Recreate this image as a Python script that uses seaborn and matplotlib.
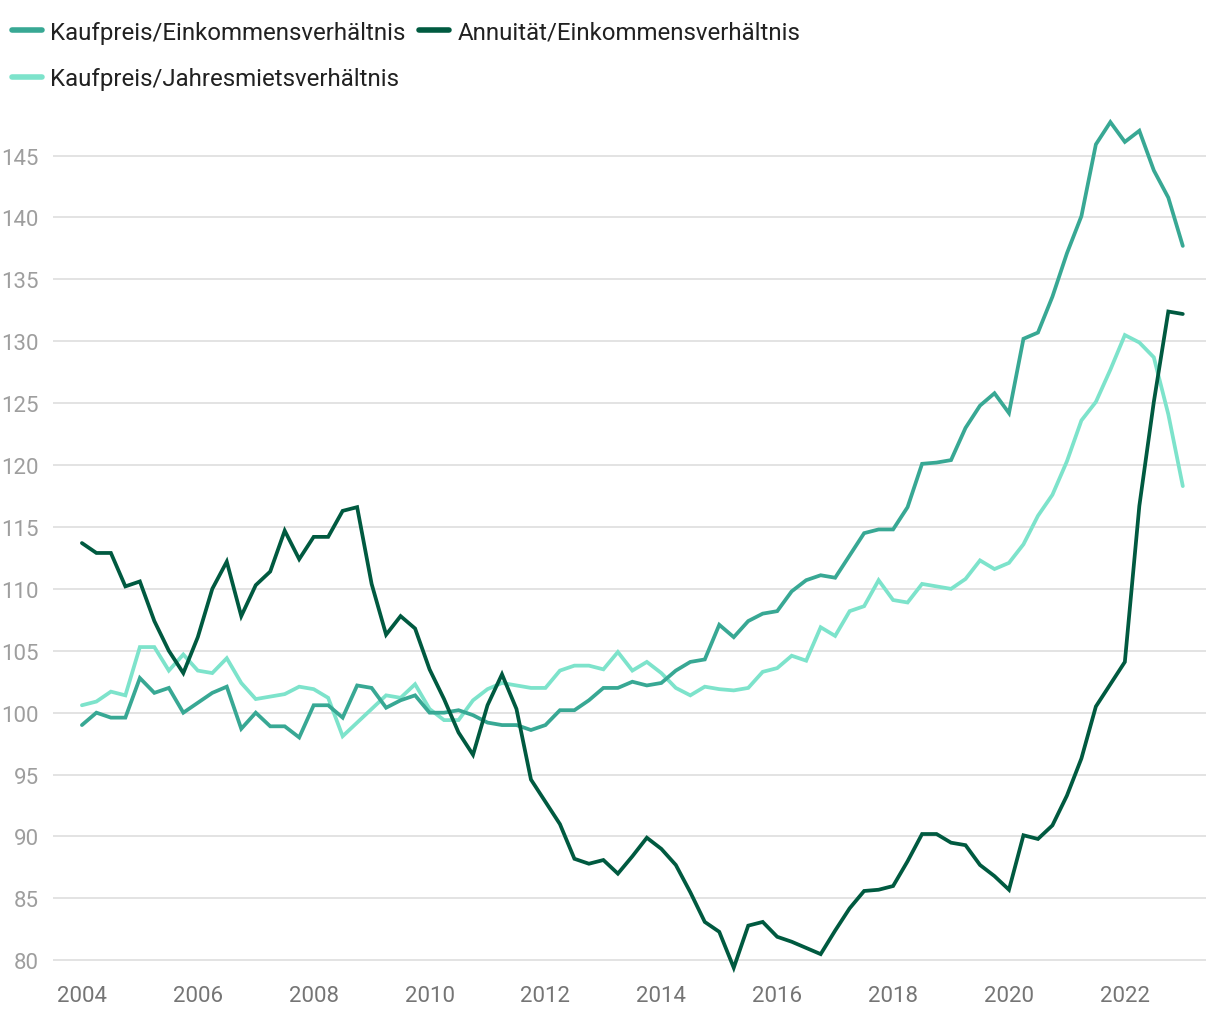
import numpy as np
import pandas as pd
import matplotlib
matplotlib.use("Agg")
import matplotlib.pyplot as plt
from matplotlib.lines import Line2D
import seaborn as sns

# Quartalswerte 2004 Q1 bis 2023 Q1 (Index)
jahre = list(range(2004, 2024))
quartale = [j + q / 4 for j in jahre for q in range(4)][:77]

kaufpreis_einkommen = [
    99.0, 100.0, 99.6, 99.6, 102.8, 101.6, 102.0, 100.0, 100.8, 101.6,
    102.1, 98.7, 100.0, 98.9, 98.9, 98.0, 100.6, 100.6, 99.6, 102.2,
    102.0, 100.4, 101.0, 101.4, 100.0, 100.0, 100.2, 99.8, 99.2, 99.0,
    99.0, 98.6, 99.0, 100.2, 100.2, 101.0, 102.0, 102.0, 102.5, 102.2,
    102.4, 103.4, 104.1, 104.3, 107.1, 106.1, 107.4, 108.0, 108.2, 109.8,
    110.7, 111.1, 110.9, 112.7, 114.5, 114.8, 114.8, 116.6, 120.1, 120.2,
    120.4, 123.0, 124.8, 125.8, 124.2, 130.2, 130.7, 133.6, 137.1, 140.1,
    145.9, 147.7, 146.1, 147.0, 143.8, 141.6, 137.7,
]

annuitaet_einkommen = [
    113.7, 112.9, 112.9, 110.2, 110.6, 107.4, 105.0, 103.2, 106.1, 110.0,
    112.2, 107.8, 110.3, 111.4, 114.7, 112.4, 114.2, 114.2, 116.3, 116.6,
    110.4, 106.3, 107.8, 106.8, 103.5, 101.1, 98.4, 96.6, 100.6, 103.1,
    100.3, 94.6, 92.8, 91.0, 88.2, 87.8, 88.1, 87.0, 88.4, 89.9,
    89.0, 87.7, 85.5, 83.1, 82.3, 79.4, 82.8, 83.1, 81.9, 81.5,
    81.0, 80.5, 82.4, 84.2, 85.6, 85.7, 86.0, 88.0, 90.2, 90.2,
    89.5, 89.3, 87.7, 86.8, 85.7, 90.1, 89.8, 90.9, 93.3, 96.3,
    100.5, 102.3, 104.1, 116.7, 125.1, 132.4, 132.2,
]

kaufpreis_jahresmiete = [
    100.6, 100.9, 101.7, 101.4, 105.3, 105.3, 103.4, 104.7, 103.4, 103.2,
    104.4, 102.4, 101.1, 101.3, 101.5, 102.1, 101.9, 101.2, 98.1, 99.2,
    100.3, 101.4, 101.2, 102.3, 100.3, 99.4, 99.4, 101.0, 101.9, 102.4,
    102.2, 102.0, 102.0, 103.4, 103.8, 103.8, 103.5, 104.9, 103.4, 104.1,
    103.2, 102.0, 101.4, 102.1, 101.9, 101.8, 102.0, 103.3, 103.6, 104.6,
    104.2, 106.9, 106.2, 108.2, 108.6, 110.7, 109.1, 108.9, 110.4, 110.2,
    110.0, 110.8, 112.3, 111.6, 112.1, 113.6, 115.9, 117.6, 120.3, 123.6,
    125.1, 127.7, 130.5, 129.9, 128.7, 124.1, 118.3,
]

serien = {
    "Kaufpreis/Einkommensverhältnis": kaufpreis_einkommen,
    "Kaufpreis/Jahresmietsverhältnis": kaufpreis_jahresmiete,
    "Annuität/Einkommensverhältnis": annuitaet_einkommen,
}
farben = {
    "Kaufpreis/Einkommensverhältnis": "#38a894",
    "Kaufpreis/Jahresmietsverhältnis": "#7de3cb",
    "Annuität/Einkommensverhältnis": "#005a40",
}

df = pd.DataFrame(
    [(q, name, v) for name, werte in serien.items() for q, v in zip(quartale, werte)],
    columns=["quartal", "serie", "wert"],
)

sns.set_theme(style="white")
plt.rcParams["font.family"] = ["Roboto", "DejaVu Sans"]

fig = plt.figure(figsize=(12.2, 10.2), dpi=100)
ax = fig.add_axes([0.0434, 0.0454, 0.9451, 0.8497])

# Zeichenreihenfolge: Jahresmiete unten, dann Einkommen, dann Annuität
for name in ["Kaufpreis/Jahresmietsverhältnis", "Kaufpreis/Einkommensverhältnis", "Annuität/Einkommensverhältnis"]:
    sns.lineplot(
        data=df[df["serie"] == name], x="quartal", y="wert",
        color=farben[name], linewidth=2.7, ax=ax, legend=False,
        solid_joinstyle="miter",
    )

ax.set_xlim(2003.5, 2023.4)
ax.set_ylim(79, 149)
ax.set_yticks(range(80, 150, 5))
ax.set_xticks(range(2004, 2023, 2))
ax.grid(axis="y", color="#e3e3e3", linewidth=1.4)
ax.set_axisbelow(True)
for s in ax.spines.values():
    s.set_visible(False)
ax.set_xlabel("")
ax.set_ylabel("")
ax.tick_params(axis="y", labelsize=16, labelcolor="#9e9e9e", length=0, pad=10)
ax.tick_params(axis="x", labelsize=16, labelcolor="#757575", length=0, pad=9)

# Legende: zwei Spalten, Reihenfolge wie im Original
order = ["Kaufpreis/Einkommensverhältnis", "Kaufpreis/Jahresmietsverhältnis", "Annuität/Einkommensverhältnis"]
h = [Line2D([], [], color=farben[n], linewidth=4) for n in order]
fig.legend(
    h, order, loc="upper left", bbox_to_anchor=(0.002, 0.988), ncol=2,
    frameon=False, fontsize=17.3, handlelength=1.25, handletextpad=0.35,
    columnspacing=0.55, labelspacing=0.98, borderaxespad=0.0, borderpad=0.4,
    labelcolor="#212121",
)

fig.savefig("out.png", dpi=100)
